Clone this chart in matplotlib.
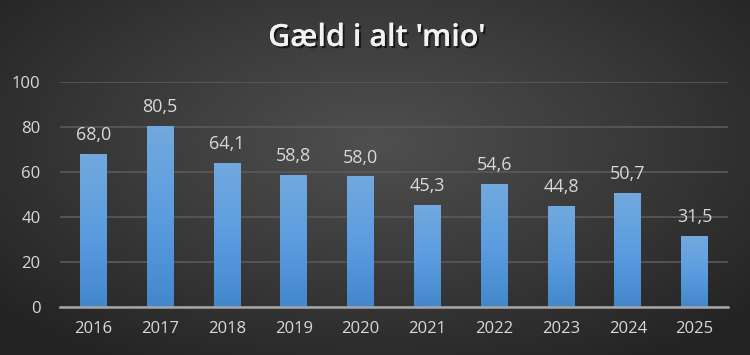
import numpy as np
import matplotlib.pyplot as plt
import matplotlib.patheffects as pe
from matplotlib.colors import LinearSegmentedColormap

years = ['2016', '2017', '2018', '2019', '2020', '2021', '2022', '2023', '2024', '2025']
debt = [68.0, 80.5, 64.1, 58.8, 58.0, 45.3, 54.6, 44.8, 50.7, 31.5]
yticks = [0, 20, 40, 60, 80, 100]

plt.rcParams['font.family'] = ['Open Sans', 'DejaVu Sans']

fig = plt.figure(figsize=(7.5, 3.55), dpi=100)

# radial dark background
bg = fig.add_axes([0, 0, 1, 1], zorder=-10)
gx, gy = np.meshgrid(np.linspace(-1, 1, 750), np.linspace(-1, 1, 355))
r = np.sqrt((gx / 1.0) ** 2 + ((gy - 0.2) / 1.1) ** 2)
bg_cmap = LinearSegmentedColormap.from_list('bg', ['#4f4f4f', '#3a3a3a', '#232323'])
bg.imshow(np.clip(r / 1.35, 0, 1), cmap=bg_cmap, vmin=0, vmax=1, aspect='auto',
          extent=[0, 1, 0, 1], origin='lower')
bg.axis('off')

ax = fig.add_axes([0.08, 0.1352, 0.8907, 0.634])
ax.set_facecolor('none')
x = np.arange(len(years))
bars = ax.bar(x, debt, width=0.4, color='none', zorder=3)

bar_cmap = LinearSegmentedColormap.from_list('bar', ['#4387cb', '#5c9de0', '#72a9dd'])
grad = np.linspace(0, 1, 256).reshape(-1, 1)
for b in bars:
    im = ax.imshow(grad, cmap=bar_cmap, aspect='auto', origin='lower', zorder=3,
                   extent=[b.get_x(), b.get_x() + b.get_width(), 0, b.get_height()])
    im.set_clip_path(b)

for xi, v in zip(x, debt):
    ax.annotate(f'{v:.1f}'.replace('.', ','), (xi, v), xytext=(0, 7),
                textcoords='offset points', ha='center', va='bottom',
                color='#d9d9d9', fontsize=13)

ax.set_xlim(-0.5, len(years) - 0.5)
ax.set_ylim(0, 100)
ax.set_yticks(yticks)
ax.set_xticks(x)
ax.set_xticklabels(years)
ax.tick_params(colors='#d9d9d9', labelsize=12, length=0)
ax.tick_params(axis='x', pad=10)
ax.tick_params(axis='y', pad=14)
ax.grid(axis='y', color='#5a5a5a', linewidth=1.2, zorder=0)
for s in ['top', 'right', 'left']:
    ax.spines[s].set_visible(False)
ax.spines['bottom'].set_color('#a6a6a6')
ax.spines['bottom'].set_linewidth(1.8)
ax.spines['bottom'].set_zorder(4)

fig.text(0.502, 0.893, "Gæld i alt 'mio'", ha='center', va='center', color='#f2f2f2',
         fontsize=22, fontweight='semibold',
         path_effects=[pe.withSimplePatchShadow(offset=(1.5, -1.5), shadow_rgbFace='black', alpha=0.6),
                       pe.Normal()])

fig.savefig('out.png', dpi=100)
